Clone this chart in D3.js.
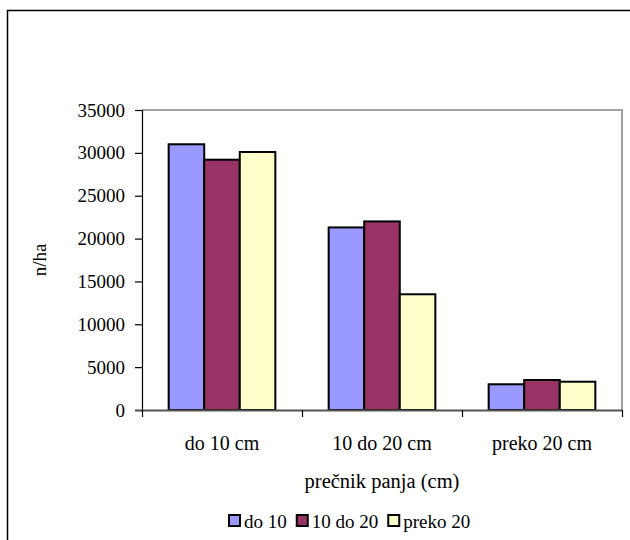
<!DOCTYPE html>
<html>
<head>
<meta charset="utf-8">
<script src="https://cdn.jsdelivr.net/npm/d3@7"></script>
<style>
  html, body { margin: 0; padding: 0; background: #fff; }
  svg { display: block; }
</style>
</head>
<body>
<svg id="chart" width="630" height="540"></svg>
<script>
const categories = ["do 10 cm", "10 do 20 cm", "preko 20 cm"];
const seriesNames = ["do 10", "10 do 20", "preko 20"];
const seriesColors = ["#9999ff", "#993366", "#ffffcc"];
const valuesDo10 = [31000, 21300, 3000];
const values10do20 = [29200, 22000, 3500];
const valuesPreko20 = [30100, 13500, 3300];
const yTicks = [0, 5000, 10000, 15000, 20000, 25000, 30000, 35000];
const xTitle = "prečnik panja (cm)";
const yTitle = "n/ha";

const seriesValues = [valuesDo10, values10do20, valuesPreko20];
const FONT = "Liberation Serif";
const FS = 19;

const svg = d3.select("#chart");
const W = 630, H = 540;
const m = { left: 142, right: 8, top: 110, bottom: 130 };
const plotW = W - m.left - m.right; // 480
const plotH = H - m.top - m.bottom; // 300

// outer chart frame
svg.append("rect")
  .attr("x", 7.5).attr("y", 10.5)
  .attr("width", 640).attr("height", 560)
  .attr("fill", "#fff").attr("stroke", "#000").attr("stroke-width", 1.5);

const g = svg.append("g").attr("transform", `translate(${m.left},${m.top})`);

const x0 = d3.scaleBand().domain(categories).range([0, plotW]);
const barW = x0.bandwidth() / (seriesNames.length + 1.5);
const x1 = d3.scaleBand().domain(seriesNames)
  .range([x0.bandwidth() / 2 - barW * 1.5, x0.bandwidth() / 2 + barW * 1.5]);
const y = d3.scaleLinear().domain([0, 35000]).range([plotH, 0]);

// plot area border (gray, top & right)
g.append("path")
  .attr("d", `M0,${y(35000)}H${plotW}V${plotH}`)
  .attr("fill", "none").attr("stroke", "#a0a0a0").attr("stroke-width", 2);

// bars
categories.forEach((c, ci) => {
  seriesNames.forEach((s, si) => {
    const v = seriesValues[si][ci];
    g.append("rect")
      .attr("x", x0(c) + x1(s))
      .attr("y", y(v))
      .attr("width", x1.bandwidth())
      .attr("height", y(0) - y(v))
      .attr("fill", seriesColors[si])
      .attr("stroke", "#000").attr("stroke-width", 2);
  });
});

// y axis
const yAxis = d3.axisLeft(y).tickValues(yTicks).tickSize(7).tickPadding(10).tickFormat(d3.format("d"));
const ya = g.append("g").call(yAxis)
  .attr("font-family", FONT).attr("font-size", FS);
ya.select(".domain").attr("stroke", "#000").attr("stroke-width", 1.2).attr("d", `M0.5,0V${plotH}`);
ya.selectAll(".tick line").attr("stroke", "#000").attr("stroke-width", 1.2);
ya.selectAll(".tick text").attr("fill", "#000");

// x axis
const xAxis = d3.axisBottom(x0).tickSize(0).tickPadding(0);
const xa = g.append("g").attr("transform", `translate(0,${plotH})`).call(xAxis)
  .attr("font-family", FONT).attr("font-size", 20);
xa.select(".domain").remove();
xa.append("line").attr("x1", -7).attr("x2", plotW).attr("y1", 0.5).attr("y2", 0.5)
  .attr("stroke", "#555").attr("stroke-width", 1.8);
const bounds = categories.map(c => x0(c)).concat([plotW]);
xa.selectAll(".bt").data(bounds).enter().append("line")
  .attr("x1", d => d + 0.5).attr("x2", d => d + 0.5)
  .attr("y1", 0).attr("y2", 7).attr("stroke", "#000").attr("stroke-width", 1.2);
xa.selectAll(".tick text").attr("dy", null).attr("y", 40).attr("fill", "#000");

// axis titles
svg.append("text").attr("x", m.left + plotW / 2).attr("y", 488)
  .attr("text-anchor", "middle").attr("font-family", FONT).attr("font-size", 20.5).text(xTitle);
svg.append("text")
  .attr("transform", `translate(46,${m.top + plotH / 2}) rotate(-90)`)
  .attr("text-anchor", "middle").attr("font-family", FONT).attr("font-size", FS).text(yTitle);

// legend
const lg = svg.append("g").attr("font-family", FONT).attr("font-size", FS);
let cx = 0;
const items = [];
seriesNames.forEach((n, i) => {
  const sq = lg.append("rect").attr("y", 515).attr("width", 11).attr("height", 11)
    .attr("fill", seriesColors[i]).attr("stroke", "#000").attr("stroke-width", 2);
  const t = lg.append("text").attr("y", 528).text(n);
  const tw = t.node().getComputedTextLength();
  items.push({ sq, t, start: cx });
  cx += 15 + tw + (i < seriesNames.length - 1 ? 10 : 0);
});
const legendLeft = 229;
items.forEach(d => {
  d.sq.attr("x", legendLeft + d.start);
  d.t.attr("x", legendLeft + d.start + 15);
});
</script>
</body>
</html>
